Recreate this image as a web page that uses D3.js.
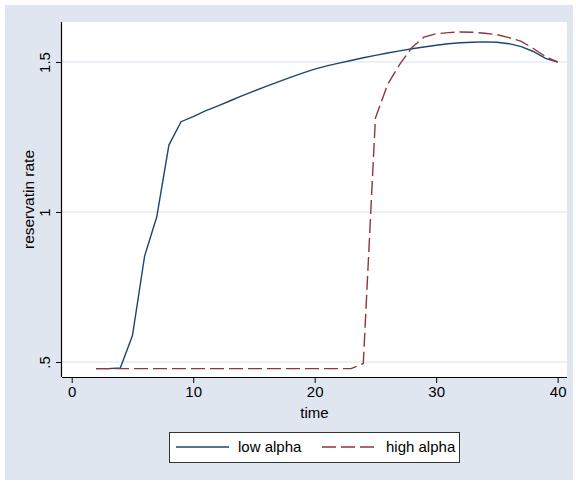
<!DOCTYPE html>
<html>
<head>
<meta charset="utf-8">
<script src="https://cdn.jsdelivr.net/npm/d3@7"></script>
<style>
  body { margin: 0; background: #fff; }
  svg { display: block; font-family: "Liberation Sans", Arial, sans-serif; }
</style>
</head>
<body>
<div id="chart"></div>
<script>
// values
var time = [2, 3, 4, 5, 6, 7, 8, 9, 10, 11, 12, 13, 14, 15, 16, 17, 18, 19, 20, 21,
            22, 23, 24, 25, 26, 27, 28, 29, 30, 31, 32, 33, 34, 35, 36, 37, 38, 39, 40];
var lowAlpha = [0.478, 0.478, 0.48, 0.588, 0.853, 0.984, 1.223, 1.301, 1.318, 1.337,
                1.353, 1.370, 1.387, 1.403, 1.419, 1.434, 1.449, 1.463, 1.476, 1.487,
                1.496, 1.505, 1.514, 1.522, 1.530, 1.537, 1.544, 1.550, 1.556, 1.561,
                1.564, 1.566, 1.567, 1.566, 1.561, 1.551, 1.535, 1.512, 1.50];
var highAlpha = [0.478, 0.478, 0.478, 0.478, 0.478, 0.478, 0.478, 0.478, 0.478, 0.478,
                 0.478, 0.478, 0.478, 0.478, 0.478, 0.478, 0.478, 0.478, 0.478, 0.478,
                 0.478, 0.478, 0.495, 1.313, 1.425, 1.492, 1.548, 1.583, 1.594, 1.598,
                 1.600, 1.599, 1.596, 1.591, 1.581, 1.569, 1.545, 1.518, 1.50];
var xTicks = [0, 10, 20, 30, 40];
var yTicks = [0.5, 1, 1.5];
var yTickLabels = [".5", "1", "1.5"];
var seriesNames = ["low alpha", "high alpha"];

function draw() {
    var w = 576, h = 484;
    var left = 62, right = 567, top = 22, bottom = 377;

    var svg = d3.select("#chart").append("svg")
        .attr("width", w)
        .attr("height", h);

    // graph region
    svg.append("rect")
        .attr("x", 5).attr("y", 5)
        .attr("width", 568).attr("height", 475)
        .attr("fill", "#e0e6f0");

    // plot region
    svg.append("rect")
        .attr("x", left).attr("y", top)
        .attr("width", right - left).attr("height", bottom - top)
        .attr("fill", "#fff");

    var x = d3.scaleLinear().domain([-0.8, 40.77]).range([left, right]);
    var y = d3.scaleLinear().domain([0.45, 1.6333]).range([bottom, top]);

    // grid lines
    svg.selectAll(".grid")
        .data(yTicks)
        .enter().append("line")
        .attr("x1", left).attr("x2", right)
        .attr("y1", d => y(d)).attr("y2", d => y(d))
        .attr("stroke", "#dce4f0")
        .attr("stroke-width", 1.2);

    // axes
    var xAxis = svg.append("g")
        .attr("transform", "translate(0," + bottom + ")")
        .call(d3.axisBottom(x).tickValues(xTicks).tickSize(6).tickPadding(3).tickSizeOuter(0));
    var yAxis = svg.append("g")
        .attr("transform", "translate(" + left + ",0)")
        .call(d3.axisLeft(y).tickValues(yTicks).tickSize(6).tickSizeOuter(0)
            .tickFormat((d, i) => yTickLabels[i]));

    [xAxis, yAxis].forEach(function(g) {
        g.select(".domain").attr("stroke", "#000").attr("stroke-width", 1.2);
        g.selectAll(".tick line").attr("stroke", "#000").attr("stroke-width", 1);
        g.selectAll("text").attr("font-size", 15).attr("fill", "#000")
            .attr("font-family", "Liberation Sans, Arial, sans-serif");
    });
    // extend x axis line over the whole plot width
    xAxis.select(".domain").attr("d", "M" + left + ",0.5H" + right);
    yAxis.select(".domain").attr("d", "M-0.5," + top + "V" + bottom);

    yAxis.selectAll(".tick text")
        .attr("x", null).attr("dy", null)
        .attr("text-anchor", "middle")
        .attr("transform", "translate(-12,0) rotate(-90)");

    // axis titles
    svg.append("text")
        .attr("x", (left + right) / 2).attr("y", 418)
        .attr("text-anchor", "middle")
        .attr("font-size", 15)
        .text("time");
    svg.append("text")
        .attr("transform", "translate(34," + (top + bottom) / 2 + ") rotate(-90)")
        .attr("text-anchor", "middle")
        .attr("font-size", 15.5)
        .text("reservatin rate");

    var line = d3.line()
        .x((d, i) => x(time[i]))
        .y(d => y(d));

    svg.append("path")
        .datum(lowAlpha)
        .attr("d", line)
        .attr("fill", "none")
        .attr("stroke", "#1a476f")
        .attr("stroke-width", 1.4);

    svg.append("path")
        .datum(highAlpha)
        .attr("d", line)
        .attr("fill", "none")
        .attr("stroke", "#90353b")
        .attr("stroke-width", 1.4)
        .attr("stroke-dasharray", "14,5");

    // legend
    var lg = svg.append("g");
    lg.append("rect")
        .attr("x", 169.5).attr("y", 432.5)
        .attr("width", 290).attr("height", 30)
        .attr("fill", "#fff")
        .attr("stroke", "#333")
        .attr("stroke-width", 1);
    var items = [
        {x1: 176, x2: 229, tx: 238, color: "#1a476f", dash: null},
        {x1: 322, x2: 376, tx: 386, color: "#90353b", dash: "14,5"}
    ];
    items.forEach(function(it, i) {
        lg.append("line")
            .attr("x1", it.x1).attr("x2", it.x2)
            .attr("y1", 447).attr("y2", 447)
            .attr("stroke", it.color)
            .attr("stroke-width", 1.4)
            .attr("stroke-dasharray", it.dash);
        lg.append("text")
            .attr("x", it.tx).attr("y", 452)
            .attr("font-size", 15)
            .text(seriesNames[i]);
    });
}

window.onload = draw;
</script>
</body>
</html>
